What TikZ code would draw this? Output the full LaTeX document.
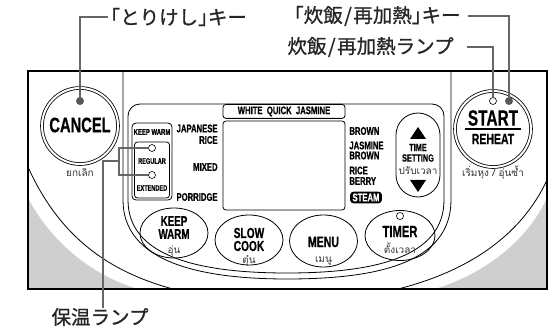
\documentclass[tikz,border=0pt]{standalone}
\usepackage{fontspec}
\usetikzlibrary{shapes.geometric}
\newfontfamily\cjk[FakeBold=1]{Noto Sans CJK JP}
\newfontfamily\thai[Script=Thai]{Loma}
\newfontfamily\cond[FakeStretch=0.7, FakeBold=0.6]{Liberation Sans}

\begin{document}
\begin{tikzpicture}[x = 1pt, y = -1pt, line width = 0.8pt,
    leader/.style = {draw = black!60, line width = 1.3pt},
    lamp/.style = {circle, draw, fill = white, line width = 0.6pt, inner sep = 0pt, minimum size = 7pt},
    lampon/.style = {circle, fill = black!65, inner sep = 0pt, minimum size = 8pt},
    bigkey/.style = {circle, draw, double, double distance = 2pt, inner sep = 0pt, minimum size = 76pt},
    key/.style = {ellipse, draw, inner sep = 0pt, minimum width = 68pt, minimum height = 50pt},
    rbox/.style = {draw, rounded corners = #1, inner sep = 0pt},
    jp/.style = {font = \cjk\fontsize{19.5}{19.5}\selectfont, text = black!85, inner sep = 0pt},
    th/.style = {font = \thai\fontsize{10}{10}\selectfont, text = black!80, inner sep = 0pt, anchor = base},
    lbl/.style = {font = \cond\bfseries\fontsize{#1}{#1}\selectfont, inner sep = 0pt},
    lbl/.default = 11]
  \useasboundingbox (0,0) rectangle (560,334);
  \fill [black!19] (28,198) .. controls (50,240) and (90,275) .. (138,289) -- (28,289) -- cycle;
  \fill [black!19] (435,289) .. controls (480,275) and (525,245) .. (547,198) -- (547,289) -- cycle;
  \draw (28,167) .. controls (60,238) and (110,272) .. (173,289);
  \draw (398,289) .. controls (465,272) and (520,238) .. (547,180);
  \draw (123,71) -- (123,200) .. controls (123,262) and (200,279) .. (287,279) .. controls (380,279) and (451,262) .. (451,200) -- (451,71);
  \draw [rounded corners = 12pt] (128,200) -- (128,104) -- (444,104) -- (444,200);
  \draw (444,200) .. controls (444,257) and (375,273) .. (287,273) .. controls (200,273) and (128,257) .. (128,200);

  \node [rbox = 3pt, fill = white, minimum width = 122pt, minimum height = 14pt, anchor = north, lbl = 11] (menuname) at (284,104) {WHITE\ \ QUICK\ \ JASMINE};
  \node [rbox = 3pt, minimum width = 122pt, minimum height = 89pt] (lcd) at (284,165.5) {};
  \node [rbox = 4pt, minimum width = 40pt, minimum height = 77pt] (kwbox) at (152,161.5) {};
  \node [rbox = 3pt, minimum width = 35pt, minimum height = 56pt] (kwin) at (152,170) {};
  \node [lbl = 8.5] (kwname) at (152,132) {KEEP WARM};
  \node [lamp] (lampreg) at (152,148) {};   \node [lbl = 8] (regular) at (152,161) {REGULAR};
  \node [lamp] (lampext) at (152,175) {};   \node [lbl = 8] (extended) at (152,188) {EXTENDED};

  \node [lbl, anchor = east] (japanese) at (218,128.5) {JAPANESE};
  \node [lbl, anchor = east] (rice) at (218,140) {RICE};
  \node [lbl, anchor = east] (mixed) at (218,167) {MIXED};
  \node [lbl, anchor = east] (porridge) at (218,197) {PORRIDGE};
  \node [lbl, anchor = west] (brown) at (349,131) {BROWN};
  \node [lbl, anchor = west] (jasmine) at (349,145.5) {JASMINE};
  \node [lbl, anchor = west] (jbrown) at (349,155.5) {BROWN};
  \node [lbl, anchor = west] (riceb) at (349,170.5) {RICE};
  \node [lbl, anchor = west] (berry) at (349,181) {BERRY};
  \node [rbox = 3pt, fill = black, text = white, lbl = 11, inner xsep = 2pt, inner ysep = 1.5pt] (steam) at (366,197.5) {STEAM};

  \node [rbox = 22pt, minimum width = 44pt, minimum height = 84pt] (timeset) at (418,155) {};
  \fill (410,139) -- (418,127) -- (426,139) -- cycle;
  \fill (410,180) -- (418,192) -- (426,180) -- cycle;
  \node [lbl = 10.5] (time) at (418,147.5) {TIME};
  \node [lbl = 10.5] (setting) at (418,158) {SETTING};
  \node [th] (settingth) at (418,175) {ปรับเวลา};

  \node [key] (keepwarm) at (174,233) {};
  \node [lbl = 14] (keep) at (174,221) {KEEP};
  \node [lbl = 14] (warm) at (174,234) {WARM};
  \node [th] (keepwarmth) at (174,253) {อุ่น};
  \node [key] (slowcook) at (249,240) {};
  \node [lbl = 14.5] (slow) at (249,233) {SLOW};
  \node [lbl = 14.5] (cook) at (249,246) {COOK};
  \node [th] (slowcookth) at (249,263) {ตุ๋น};
  \node [key, minimum height = 52pt] (menu) at (323.5,241) {};
  \node [lbl = 15] (menutext) at (323.5,242) {MENU};
  \node [th] (menuth) at (323.5,262) {เมนู};
  \node [key, minimum width = 70pt] (timer) at (400,235.5) {};
  \node [lamp] (timerlamp) at (400,216) {};
  \node [lbl = 16] (timertext) at (400,231.5) {TIMER};
  \node [th] (timerth) at (400,254) {ตั้งเวลา};

  \node [bigkey] (cancel) at (80,126) {};
  \node [lbl = 21] (canceltext) at (80,125) {CANCEL};
  \node [th] (cancelth) at (80,177) {ยกเลิก};
  \node [bigkey] (start) at (493,129) {};
  \node [lbl = 22] (starttext) at (493,118) {START};
  \node [lbl = 15] (reheat) at (493,139) {REHEAT};
  \draw [line width = 1.3pt] ([xshift = -28pt]start.center) -- ([xshift = 28pt]start.center);
  \node [th] (startth) at (493,177) {เริ่มหุง / อุ่นซ้ำ};

  \draw [line width = 2pt] (28,71) rectangle (547,289);

  \node [jp, anchor = west] (cancelkey) at (110,17) {｢とりけし｣キー};
  \node [jp, anchor = east] (startkey) at (461,16) {｢炊飯\kern1.5pt/\kern1.5pt再加熱｣キー};
  \node [jp, anchor = east] (startlabel) at (454,47) {炊飯\kern1.5pt/\kern1.5pt再加熱ランプ};
  \node [jp] (warmlabel) at (100,317) {保温ランプ};
  \node [lampon] (cancellamp) at (80,101) {};
  \node [lampon] (startlamp) at (509,101) {};
  \node [lamp] (startlight) at (493,101) {};
  \coordinate (brk) at (119,161);
  \coordinate (brkl) at (103,161);
  \draw [leader] ([xshift = -2pt]cancelkey.west) -| (cancellamp);
  \draw [leader] ([xshift = 7pt]startkey.east) -| (startlamp);
  \draw [leader] ([xshift = 13pt]startlabel.east) -| (startlight);
  \draw [leader] (lampreg) -- (lampreg -| brk) -- (lampext -| brk) -- (lampext);
  \draw [leader] (brk) -- (brkl) -- (brkl |- warmlabel.north);
\end{tikzpicture}
\end{document}
